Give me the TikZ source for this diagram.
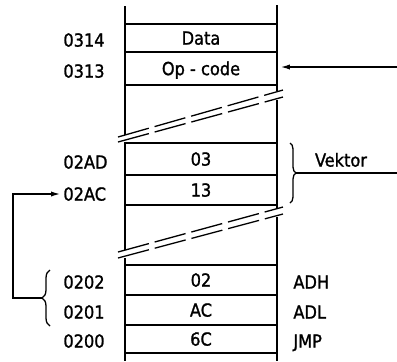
\documentclass[tikz,border=0pt]{standalone}
\usepackage{fontspec}
\setmainfont{DejaVu Sans Condensed}[BoldFont=DejaVu Sans Condensed, BoldFeatures={FakeBold=1.3}]
\usepackage{tikz}
\usetikzlibrary{arrows.meta, decorations.pathreplacing}
\tikzstyle{arrow} = [line width=0.9pt,-{Latex[length=5pt,width=2.6pt]}]
\tikzstyle{cell} = [draw, line width=0.9pt, minimum width=76pt, inner sep=0pt, text height=6.6pt, text depth=0pt]
\tikzstyle{lbl} = [inner sep=1pt, text height=6.6pt, text depth=0pt]
\tikzstyle{brk} = [line width=0.65pt, dash pattern=on 16pt off 3pt]
\tikzstyle{brc} = [line width=0.65pt, decorate]

\begin{document}
\begin{tikzpicture}[x=0.5pt, y=-0.5pt, font=\fontsize{9}{10}\selectfont\bfseries]
    \useasboundingbox (0,0) rectangle (397,361);

    % Memory cells
    \node[cell, minimum height=14pt] (data) at (201,38) {Data};
    \node[cell, minimum height=16.5pt] (opcode) at (201,68.5) {Op - code};
    \node[cell, minimum height=16pt] (v03) at (201,159) {03};
    \node[cell, minimum height=15pt] (v13) at (201,190) {13};
    \node[cell, minimum height=15pt] (v02) at (201,280) {02};
    \node[cell, minimum height=15pt] (vac) at (201,310) {AC};
    \node[cell, minimum height=14pt] (v6c) at (201,339) {6C};

    % Column sides (broken)
    \draw[line width=1.4pt] (125,6) -- (125,135) (125,142) -- (125,250) (125,258) -- (125,361);
    \draw[line width=1.4pt] (277,5) -- (277,91) (277,100) -- (277,208) (277,217) -- (277,361);

    % Break marks
    \draw[brk] (118,137) -- (283,90);
    \draw[brk] (118,142) -- (283,97);
    \draw[brk] (118,252) -- (283,207);
    \draw[brk] (118,258) -- (283,214);

    % Addresses
    \node[lbl, anchor=west] (a0314) at (61,40) {0314};
    \node[lbl, anchor=west] (a0313) at (61,71) {0313};
    \node[lbl, anchor=west] (a02ad) at (61,162) {02AD};
    \node[lbl, anchor=west] (a02ac) at (61,194) {02AC};
    \node[lbl, anchor=west] (a0202) at (61,282) {0202};
    \node[lbl, anchor=west] (a0201) at (61,312) {0201};
    \node[lbl, anchor=west] (a0200) at (61,341) {0200};

    % Byte meaning
    \node[lbl, anchor=west] (adh) at (291,282) {ADH};
    \node[lbl, anchor=west] (adl) at (291,312) {ADL};
    \node[lbl, anchor=west] (jmp) at (291,341) {JMP};

    % Incoming arrow
    \coordinate (opsrc) at (397,67);
    \draw[arrow, shorten >=1pt] (opsrc) -- (opcode.east |- opsrc);

    % Vector brace
    \draw[brc, decoration={brace, amplitude=3pt}] (290,143) -- (290,203);
    \coordinate (vtip) at (296,173);
    \coordinate (vend) at (397,173);
    \draw[line width=0.8pt] (vtip) -- (vend);
    \node[lbl] (vektor) at (341,160) {Vektor};

    % Jump target
    \draw[brc, decoration={brace, amplitude=4pt}] (50,326) -- (50,270);
    \coordinate (btip) at (42,298);
    \coordinate (bend) at (13,298);
    \draw[arrow] (btip) -- (bend) |- (a02ac.west);
\end{tikzpicture}
\end{document}
